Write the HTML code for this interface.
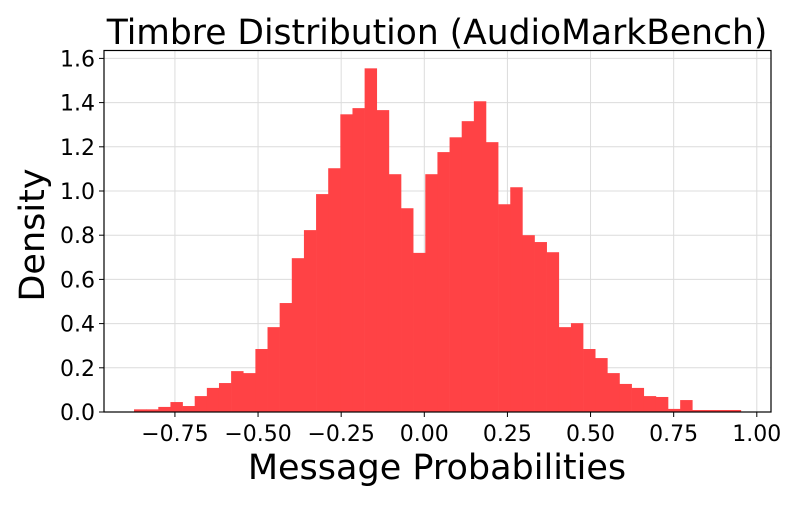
<!DOCTYPE html>
<html><head><meta charset="utf-8"><style>
html,body{margin:0;padding:0;background:#fff;}
svg text{font-family:"DejaVu Sans","Liberation Sans",sans-serif;fill:#000;}
</style></head><body>
<svg id="chart" width="800" height="500">
<text x="437" y="44" font-size="34.5" text-anchor="middle">Timbre Distribution (AudioMarkBench)</text>
<text x="437" y="479" font-size="35" text-anchor="middle">Message Probabilities</text>
<text transform="translate(44,235) rotate(-90)" font-size="35" text-anchor="middle">Density</text>
<g id="grid"></g><g id="bars"></g><g id="ticks"></g>
<rect x="104" y="50.5" width="667" height="361.5" fill="none" stroke="#000" stroke-width="1.2"/>
</svg>
<script>
const binStart = -0.873;
const binWidth = 0.0365;
const densities = [0.012,0.012,0.023,0.045,0.027,0.072,0.109,0.131,0.185,0.176,0.285,0.384,0.493,0.696,0.823,0.986,1.103,1.347,1.375,1.555,1.366,1.076,0.922,0.720,1.076,1.176,1.243,1.316,1.406,1.221,0.940,1.017,0.800,0.769,0.723,0.384,0.402,0.285,0.244,0.176,0.127,0.109,0.072,0.068,0.014,0.054,0.009,0.009,0.009,0.009];
const xTicks = [-0.75,-0.5,-0.25,0,0.25,0.5,0.75,1.0];
const xTickLabels = ["\u22120.75","\u22120.50","\u22120.25","0.00","0.25","0.50","0.75","1.00"];
const yTicks = [0,0.2,0.4,0.6,0.8,1.0,1.2,1.4,1.6];
const yTickLabels = ["0.0","0.2","0.4","0.6","0.8","1.0","1.2","1.4","1.6"];
const NS="http://www.w3.org/2000/svg";
function X(v){return 424.3+v*332.5;}
function Y(v){return 412-v*221;}
function mk(t,a,p){const e=document.createElementNS(NS,t);for(const k in a)e.setAttribute(k,a[k]);p.appendChild(e);return e;}
const grid=document.getElementById('grid'),bars=document.getElementById('bars'),ticks=document.getElementById('ticks');
xTicks.forEach((v,i)=>{
 const g=mk('line',{x1:X(v),x2:X(v),y1:50.5,y2:412,stroke:'#dcdcdc','stroke-width':1},grid);
 
 
 const t=mk('line',{x1:X(v),x2:X(v),y1:412,y2:417,stroke:'#000','stroke-width':1},ticks);
 
 
 const l=mk('text',{x:X(v),y:441,'font-size':22,'text-anchor':'middle'},ticks);
 l.textContent=xTickLabels[i];
 
 
});
yTicks.forEach((v,i)=>{
 const g=mk('line',{x1:104,x2:771,y1:Y(v),y2:Y(v),stroke:'#dcdcdc','stroke-width':1},grid);
 
 
 const t=mk('line',{x1:99,x2:104,y1:Y(v),y2:Y(v),stroke:'#000','stroke-width':1},ticks);
 
 
 const l=mk('text',{x:95,y:Y(v)+8,'font-size':22,'text-anchor':'end'},ticks);
 l.textContent=yTickLabels[i];
 
 
});
densities.forEach((d,i)=>{
 const x0=X(binStart+i*binWidth),x1=X(binStart+(i+1)*binWidth);
 const r=mk('rect',{x:x0,y:Y(d),width:x1-x0+0.3,height:412-Y(d),fill:'#ff4245'},bars);
 
 
});
</script>
</body></html>
